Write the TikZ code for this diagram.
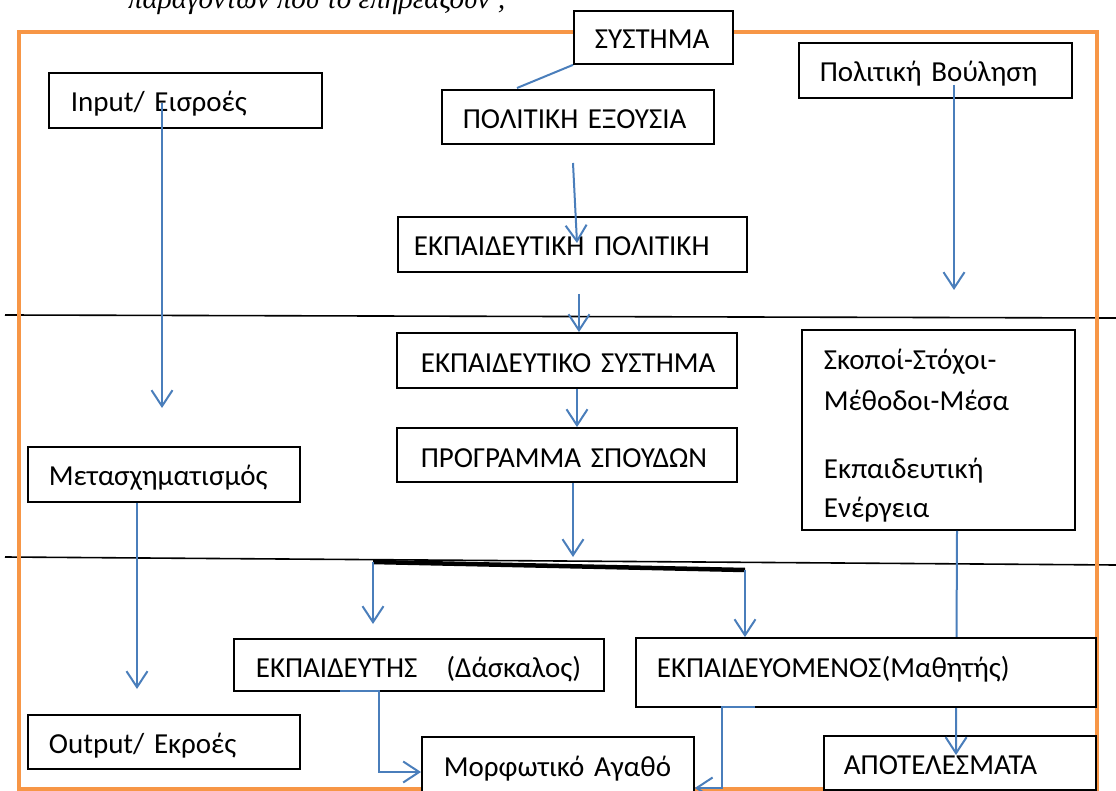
\documentclass[tikz,border=0pt]{standalone}
\usepackage{fontspec}
\setmainfont{Carlito}
\newfontfamily\serifgr{Liberation Serif}
\usetikzlibrary{arrows.meta}
\definecolor{orangeF}{HTML}{F79646}
\definecolor{blueC}{HTML}{4A7EBB}
\begin{document}
\begin{tikzpicture}[x=1pt,y=-1pt,
  box/.style={draw=black, line width=1.8pt, fill=white, anchor=base west, inner ysep=0pt,
              font=\fontsize{29}{34}\selectfont},
  conn/.style={draw=blueC, line width=2pt},
  arr/.style={conn, -{Straight Barb[length=16pt,width=21pt]}},
  sepline/.style={draw=black, line width=1.6pt},
  frame/.style={draw=orangeF, line width=4.5pt}]
\useasboundingbox (0,0) rectangle (1116,791);

% clipped heading line (cut at the top edge, as in the reference)
\begin{scope}
\clip (0,0) rectangle (1116,791);
\node[anchor=base west, inner sep=0pt, font=\serifgr\itshape\fontsize{29}{34}\selectfont] (hdr) at (128,9) {παραγόντων που το επηρεάζουν ;};
\end{scope}

% separator lines
\coordinate (l1a) at (5,315);
\coordinate (l1b) at (1116,318);
\coordinate (l2a) at (5,557);
\coordinate (l2b) at (1116,565);
\draw[sepline] (l1a) -- (l1b);
\draw[sepline] (l2a) -- (l2b);

% orange frame
\coordinate (fa) at (19,32);
\coordinate (fb) at (1097,789);
\draw[frame] (fa) rectangle (fb);

% boxes
\node[box, inner xsep=21pt, text width=117pt, text height=38pt, text depth=15pt] (sys) at (573,49) {\mbox{ΣΥΣΤΗΜΑ}};
\node[box, inner xsep=21pt, text width=230pt, text height=39pt, text depth=15pt] (pe) at (441,129) {\mbox{ΠΟΛΙΤΙΚΗ ΕΞΟΥΣΙΑ}};
\node[box, inner xsep=22pt, text width=229pt, text height=39pt, text depth=16pt] (inp) at (48,112) {\mbox{Input/ Εισροές}};
\node[box, inner xsep=21pt, text width=231pt, text height=39pt, text depth=16pt] (pv) at (798,82) {\mbox{Πολιτική Βούληση}};
\node[box, inner xsep=16pt, text width=317pt, text height=39pt, text depth=16pt] (ep) at (397,256) {\mbox{ΕΚΠΑΙΔΕΥΤΙΚΗ ΠΟΛΙΤΙΚΗ}};
\node[box, inner xsep=24pt, text width=292pt, text height=40pt, text depth=15pt] (es) at (396,373) {\mbox{ΕΚΠΑΙΔΕΥΤΙΚΟ ΣΥΣΤΗΜΑ}};
\node[box, inner xsep=24pt, text width=292pt, text height=39pt, text depth=15pt] (ps) at (396,467) {\mbox{ΠΡΟΓΡΑΜΜΑ ΣΠΟΥΔΩΝ}};
\node[box, align=left, inner xsep=22pt, text width=229pt, text height=40pt, text depth=160pt,
      font=\fontsize{29}{41}\selectfont] (sk) at (801,370)
      {\mbox{Σκοποί-Στόχοι-}\\ \mbox{Μέθοδοι-Μέσα}\\[27pt] \mbox{Εκπαιδευτική}\\[-2pt] \mbox{Ενέργεια}};
\node[box, inner xsep=21pt, text width=230pt, text height=38pt, text depth=17pt] (mt) at (27,485) {\mbox{Μετασχηματισμός}};
\node[box, inner xsep=22pt, text width=326pt, text height=38pt, text depth=14pt] (ekt) at (233,677) {\mbox{ΕΚΠΑΙΔΕΥΤΗΣ \ \ (Δάσκαλος)}};
\node[box, inner xsep=22pt, text width=228pt, text height=39pt, text depth=24pt] (ma) at (421,776) {\mbox{Μορφωτικό Αγαθό}};
\node[box, inner xsep=21pt, text width=230pt, text height=38pt, text depth=16pt] (out) at (27,753) {\mbox{Output/ Εκροές}};
\node[box, inner xsep=20pt, text width=232pt, text height=38pt, text depth=16pt] (ap) at (823,774) {\mbox{ΑΠΟΤΕΛΕΣΜΑΤΑ}};

% connectors
\coordinate (sysE) at (517,88);
\draw[conn] (sys.south west) -- (sysE);

\coordinate (inS) at (162,103);
\coordinate (inE) at (162,408);
\draw[arr] (inS) -- (inE);

\coordinate (pvS) at (954,85);
\coordinate (pvE) at (954,290);
\draw[arr] (pvS) -- (pvE);

\coordinate (peS) at (573,163);
\coordinate (peE) at (577,243);
\draw[arr] (peS) -- (peE);

\coordinate (epS) at (579,294);
\draw[arr] (epS) -- (es.north -| epS);

\coordinate (esx) at (577,0);
\draw[arr] (es.south -| esx) -- (ps.north -| esx);

\coordinate (psx) at (573,0);
\coordinate (psE) at (573,557);
\draw[arr] (ps.south -| psx) -- (psE);

\coordinate (mtx) at (137,0);
\coordinate (mtE) at (137,689);
\draw[arr] (mt.south -| mtx) -- (mtE);

\coordinate (bL) at (373,562);
\coordinate (bR) at (745,570);
\draw[draw=black, line width=4.5pt] (bL) -- (bR);
\coordinate (bLE) at (373,624);
\draw[arr] (bL) -- (bLE);

\coordinate (skx) at (957,0);
\coordinate (skE) at (956,755);
\draw[arr] (sk.south -| skx) -- (skE);

\node[box, inner xsep=21pt, text width=418pt, text height=39pt, text depth=30pt] (ekm) at (635,677) {\mbox{ΕΚΠΑΙΔΕΥΟΜΕΝΟΣ(Μαθητής)}};

\draw[arr] (bR) -- (ekm.north -| bR);

\coordinate (k1) at (340,691);
\coordinate (k2) at (379,691);
\coordinate (k3) at (379,772);
\draw[arr] (k1) -- (k2) -- (k3) -- (ma.west |- k3);

\coordinate (m1) at (755,707);
\coordinate (m2) at (722,707);
\coordinate (m3) at (722,788);
\draw[arr] (m1) -- (m2) -- (m3) -- (ma.east |- m3);
\end{tikzpicture}
\end{document}
